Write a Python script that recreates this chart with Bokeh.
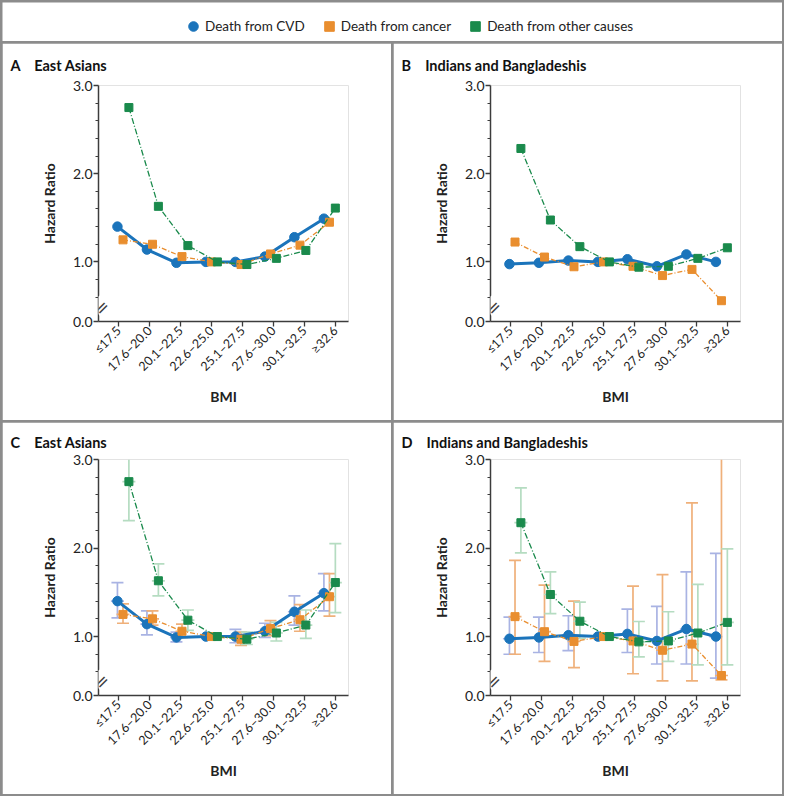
import math
from bokeh.plotting import figure
from bokeh.layouts import row, column
from bokeh.models import (ColumnDataSource, FixedTicker, CustomJSTickFormatter, Label,
                          Legend, LegendItem, Range1d)
from bokeh.embed import file_html
from bokeh.resources import INLINE

# ---------------- data ----------------
categories = ["≤17.5", "17.6–20.0", "20.1–22.5", "22.6–25.0",
              "25.1–27.5", "27.6–30.0", "30.1–32.5", "≥32.6"]

# East Asians (panels A and C)
ea_cvd = [1.40, 1.14, 0.99, 1.00, 1.00, 1.06, 1.28, 1.49]
ea_cvd_lo = [1.21, 1.02, 0.94, None, 0.93, 0.99, 1.13, 1.29]
ea_cvd_hi = [1.61, 1.29, 1.05, None, 1.08, 1.15, 1.46, 1.71]
ea_cancer = [1.25, 1.20, 1.06, 1.00, 0.97, 1.09, 1.19, 1.45]
ea_cancer_lo = [1.15, 1.13, 0.99, None, 0.90, 1.01, 1.06, 1.23]
ea_cancer_hi = [1.37, 1.29, 1.14, None, 1.05, 1.18, 1.36, 1.71]
ea_other = [2.75, 1.63, 1.185, 1.00, 0.97, 1.04, 1.13, 1.61]
ea_other_lo = [2.31, 1.46, 1.07, None, 0.91, 0.95, 0.98, 1.27]
ea_other_hi = [3.00, 1.82, 1.30, None, 1.05, 1.16, 1.30, 2.05]

# Indians and Bangladeshis (panels B and D)
ib_cvd = [0.975, 0.99, 1.015, 1.00, 1.03, 0.95, 1.085, 1.00]
ib_cvd_lo = [0.80, 0.82, 0.84, None, 0.82, 0.69, 0.69, 0.53]
ib_cvd_hi = [1.22, 1.22, 1.235, None, 1.31, 1.34, 1.73, 1.94]
ib_cancer = [1.225, 1.055, 0.945, 1.00, 0.95, 0.845, 0.915, 0.56]
ib_cancer_lo = [0.80, 0.72, 0.65, None, 0.58, 0.50, 0.50, 0.51]
ib_cancer_hi = [1.86, 1.58, 1.40, None, 1.57, 1.70, 2.51, 3.00]
ib_other = [2.286, 1.475, 1.173, 1.00, 0.94, 0.95, 1.04, 1.16]
ib_other_lo = [1.945, 1.26, 0.98, None, 0.77, 0.72, 0.68, 0.68]
ib_other_hi = [2.68, 1.73, 1.39, None, 1.17, 1.28, 1.59, 1.99]

series_names = ["Death from CVD", "Death from cancer", "Death from other causes"]
y_major = [1.0, 2.0, 3.0]
y_minor = [0.6, 0.8, 1.2, 1.4, 1.6, 1.8, 2.2, 2.4, 2.6, 2.8]

# ---------------- style ----------------
BLUE, ORANGE, GREEN = "#1b74bb", "#e98e2f", "#1a8a4c"
BLUE_CI, ORANGE_CI, GREEN_CI = "#a9b3e3", "#efb07a", "#b5dcc1"
FONT = "Lato"
TXT = "#222222"
AX = "#3c3c3c"
BORDER = "#8c8c8c"
NB = "\u00a0"

STEP = 0.953            # point spacing relative to tick spacing
OFFSETS = [-0.044, 0.136, 0.326]
STYLES = [
    dict(color=BLUE, ci=BLUE_CI, lw=3.0, dash="solid", marker="circle", size=9.5),
    dict(color=ORANGE, ci=ORANGE_CI, lw=1.3, dash="5 2 1 2", marker="square", size=8),
    dict(color=GREEN, ci=GREEN_CI, lw=1.3, dash="6 2 1 2", marker="square", size=8),
]


def xpos(k):
    return [i * STEP + OFFSETS[k] for i in range(len(categories))]


def make_panel(title, data, with_ci, width, height, bl, br, bt, bb, ppu, tstand):
    fh = height - bt - bb
    y0 = 3.0 - fh / ppu
    p = figure(width=width, height=height, output_backend="svg", toolbar_location=None,
               x_range=Range1d(-0.656, 7.422), y_range=Range1d(y0, 3.0),
               min_border_left=bl, min_border_right=br, min_border_top=bt,
               min_border_bottom=bb, title=title)
    p.outline_line_color = None
    p.grid.visible = False
    p.background_fill_color = "white"
    p.border_fill_color = "white"
    p.title.align = "left"
    p.title.offset = 8 - bl
    p.title.standoff = tstand
    p.title.text_font = FONT
    p.title.text_font_style = "bold"
    p.title.text_font_size = "14.5px"
    p.title.text_color = "#111111"

    if with_ci:
        for k, (pts, lo, hi) in enumerate(data):
            st = STYLES[k]
            xs = xpos(k)
            idx = [i for i in range(len(pts)) if lo[i] is not None]
            src = ColumnDataSource(dict(x=[xs[i] for i in idx], y=[pts[i] for i in idx],
                                        lo=[lo[i] for i in idx], hi=[hi[i] for i in idx]))
            p.segment(x0="x", y0="lo", x1="x", y1="hi", source=src,
                      line_color=st["ci"], line_width=1.7)
            p.scatter(x="x", y="lo", source=src, marker="dash", size=12,
                      line_color=st["ci"], line_width=1.7)
            p.scatter(x="x", y="y", source=src, marker="dash", size=13,
                      line_color=st["ci"], line_width=1.7)
            cap = [i for i in idx if hi[i] < 3.0]
            p.scatter(x=[xs[i] for i in cap], y=[hi[i] for i in cap], marker="dash",
                      size=12, line_color=st["ci"], line_width=1.7)

    for k, (pts, lo, hi) in enumerate(data):
        st = STYLES[k]
        xs = xpos(k)
        p.line(xs, pts, line_color=st["color"], line_width=st["lw"], line_dash=st["dash"])
        p.scatter(xs, pts, marker=st["marker"], size=st["size"],
                  fill_color=st["color"], line_color=st["color"])

    # axes
    p.xaxis.ticker = FixedTicker(ticks=list(range(len(categories))))
    p.xaxis.major_label_overrides = {i: c for i, c in enumerate(categories)}
    p.xaxis.major_label_orientation = math.pi / 4
    p.xaxis.axis_label = "BMI"
    p.yaxis.axis_label = "Hazard Ratio"
    p.yaxis.ticker = FixedTicker(ticks=[y0] + y_major, minor_ticks=y_minor)
    p.yaxis.formatter = CustomJSTickFormatter(
        code="return tick < 0.5 ? '0.0' : tick.toFixed(1);")
    for ax in (p.xaxis, p.yaxis):
        ax.axis_line_color = AX
        ax.axis_line_width = 1.5
        ax.major_tick_line_color = AX
        ax.major_tick_line_width = 1.3
        ax.major_tick_in = 0
        ax.major_tick_out = 5
        ax.minor_tick_line_color = AX
        ax.minor_tick_line_width = 1.0
        ax.minor_tick_in = 0
        ax.minor_tick_out = 3
        ax.major_label_text_font = FONT
        ax.major_label_text_color = TXT
        ax.axis_label_text_font = FONT
        ax.axis_label_text_font_style = "bold"
        ax.axis_label_text_font_size = "14px"
        ax.axis_label_text_color = TXT
    p.xaxis.major_label_text_font_size = "12.5px"
    p.yaxis.major_label_text_font_size = "14px"
    p.xaxis.major_label_standoff = 2
    p.yaxis.major_label_standoff = 1
    p.xaxis.axis_label_standoff = 6
    p.yaxis.axis_label_standoff = 12

    # axis break
    p.add_layout(Label(x=3, y=14, x_units="screen", y_units="screen", text="=",
                       angle=math.pi / 4, text_align="center", text_baseline="middle",
                       text_font="DejaVu Sans", text_font_size="17px", text_color=AX,
                       background_fill_color="white"))
    return p


ea = [(ea_cvd, ea_cvd_lo, ea_cvd_hi), (ea_cancer, ea_cancer_lo, ea_cancer_hi),
      (ea_other, ea_other_lo, ea_other_hi)]
ib = [(ib_cvd, ib_cvd_lo, ib_cvd_hi), (ib_cancer, ib_cancer_lo, ib_cancer_hi),
      (ib_other, ib_other_lo, ib_other_hi)]

pa = make_panel("A" + NB * 4 + "East Asians", ea, False, 389, 377, 96, 43, 42, 99, 88.2, 23)
pb = make_panel("B" + NB * 4 + "Indians and Bangladeshis", ib, False, 389, 377, 97, 42, 42, 99, 88.2, 23)
pc = make_panel("C" + NB * 4 + "East Asians", ea, True, 389, 372, 96, 43, 36, 99, 88.9, 18)
pd_ = make_panel("D" + NB * 4 + "Indians and Bangladeshis", ib, True, 389, 372, 97, 42, 36, 99, 88.9, 18)

# legend strip
lf = figure(width=780, height=39, output_backend="svg", toolbar_location=None,
            x_axis_type=None, y_axis_type=None, x_range=Range1d(0, 1), y_range=Range1d(0, 1),
            min_border=0)
lf.outline_line_color = None
lf.grid.visible = False
items = []
for k, name in enumerate(series_names):
    st = STYLES[k]
    r = lf.scatter(x=[-10], y=[-10], marker=st["marker"], size=10,
                   fill_color=st["color"], line_color=st["color"])
    items.append(LegendItem(label=name, renderers=[r]))
leg = Legend(items=items, orientation="horizontal", location=(179, 3),
             border_line_color=None, background_fill_alpha=0,
             label_text_font=FONT, label_text_font_size="13.5px", label_text_color=TXT,
             glyph_width=24, glyph_height=24, label_standoff=-4, spacing=12,
             padding=0, margin=0)
lf.add_layout(leg, "center")

layout = column(lf, row(pa, pb, spacing=2), row(pc, pd_, spacing=2), spacing=2,
                styles={"background-color": BORDER, "padding": "2px"})

open("out.html", "w").write(file_html(layout, INLINE))
